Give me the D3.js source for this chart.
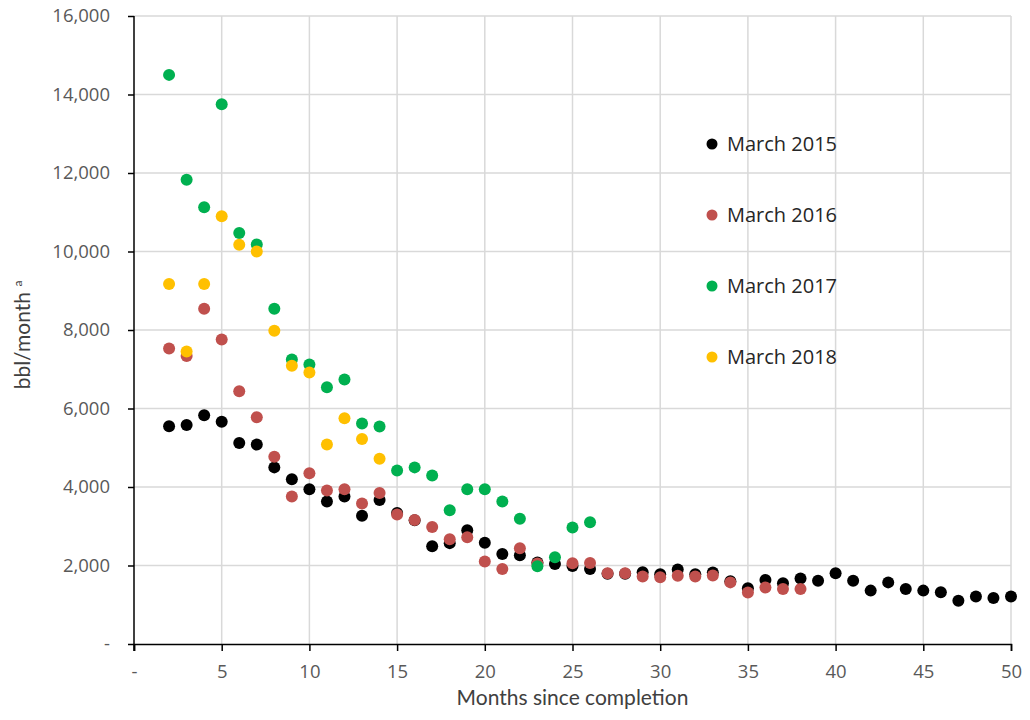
<!DOCTYPE html>
<html>
<head>
<meta charset="utf-8">
<script src="https://cdn.jsdelivr.net/npm/d3@7"></script>
<style>
  body { margin: 0; background: #fff; }
  .tick text { font-family: "Open Sans", sans-serif; fill: #595959; }
</style>
</head>
<body>
<div id="chart"></div>
<script>
//months since completion and bbl/month for each vintage
var months2015 = [2,3,4,5,6,7,8,9,10,11,12,13,14,15,16,17,18,19,20,21,22,23,24,25,26,27,28,29,30,31,32,33,34,35,36,37,38,39,40,41,42,43,44,45,46,47,48,49,50];
var values2015 = [5550,5580,5830,5660,5120,5080,4500,4200,3940,3630,3760,3270,3670,3340,3150,2490,2570,2900,2580,2290,2260,2075,2040,1990,1910,1790,1790,1830,1780,1900,1780,1820,1600,1420,1630,1550,1670,1610,1800,1610,1360,1570,1400,1360,1320,1100,1210,1170,1210];

var months2016 = [2,3,4,5,6,7,8,9,10,11,12,13,14,15,16,17,18,19,20,21,22,23,25,26,27,28,29,30,31,32,33,34,35,36,37,38];
var values2016 = [7530,7340,8540,7760,6440,5780,4770,3760,4350,3910,3940,3580,3850,3300,3160,2980,2670,2720,2100,1910,2440,2050,2060,2065,1800,1800,1720,1700,1740,1720,1745,1570,1310,1440,1400,1400];

var months2017 = [2,3,4,5,6,7,8,9,10,11,12,13,14,15,16,17,18,19,20,21,22,23,24,25,26];
var values2017 = [14500,11830,11130,13750,10470,10180,8540,7250,7120,6540,6740,5620,5540,4420,4500,4290,3410,3940,3940,3630,3190,1980,2210,2970,3100];

var months2018 = [2,3,4,5,6,7,8,9,10,11,12,13,14];
var values2018 = [9170,7450,9170,10900,10170,10000,7980,7090,6920,5080,5750,5220,4720];

var seriesNames = ["March 2015","March 2016","March 2017","March 2018"];
var seriesColors = ["#000000","#c0504d","#00b050","#ffc000"];

var xTicks = [0,5,10,15,20,25,30,35,40,45,50];
var yTicks = [0,2000,4000,6000,8000,10000,12000,14000,16000];

var series = [
	{ name: seriesNames[0], color: seriesColors[0], months: months2015, values: values2015 },
	{ name: seriesNames[1], color: seriesColors[1], months: months2016, values: values2016 },
	{ name: seriesNames[2], color: seriesColors[2], months: months2017, values: values2017 },
	{ name: seriesNames[3], color: seriesColors[3], months: months2018, values: values2018 }
];

var width = 1030, height = 720;
var margin = { top: 16, right: 19, bottom: 76, left: 134 };

var svg = d3.select('#chart').append('svg')
	.attr('width', width)
	.attr('height', height);

var x = d3.scaleLinear().domain([0, 50]).range([margin.left, width - margin.right]);
var y = d3.scaleLinear().domain([0, 16000]).range([height - margin.bottom, margin.top]);

//gridlines
svg.append('g').selectAll('line')
	.data(yTicks.slice(1))
	.enter().append('line')
	.attr('x1', x(0)).attr('x2', x(50))
	.attr('y1', function(d) { return y(d); })
	.attr('y2', function(d) { return y(d); })
	.style('stroke', '#d9d9d9')
	.style('stroke-width', 1.5);

svg.append('g').selectAll('line')
	.data(xTicks.slice(1))
	.enter().append('line')
	.attr('y1', y(0)).attr('y2', y(16000))
	.attr('x1', function(d) { return x(d); })
	.attr('x2', function(d) { return x(d); })
	.style('stroke', '#d9d9d9')
	.style('stroke-width', 1.5);

function fmt(d) { return d === 0 ? '-' : d3.format(',')(d); }

//axes
var yAxis = svg.append('g')
	.attr('transform', 'translate(' + x(0) + ',0)')
	.call(d3.axisLeft(y).tickValues(yTicks).tickFormat(fmt).tickSize(6).tickPadding(18));

var xAxis = svg.append('g')
	.attr('transform', 'translate(0,' + y(0) + ')')
	.call(d3.axisBottom(x).tickValues(xTicks).tickFormat(fmt).tickSize(7).tickPadding(14));

[xAxis, yAxis].forEach(function(a) {
	a.select('.domain').style('stroke', '#000').style('stroke-width', 1.5);
	a.selectAll('.tick line').style('stroke', '#000').style('stroke-width', 1.5);
	a.selectAll('text').style('font-size', '18.5px');
});
yAxis.select('.domain').attr('d', 'M0,' + y(16000) + 'V' + (y(0) + 7));

//points
series.forEach(function(s) {
	svg.append('g').selectAll('circle')
		.data(s.months.map(function(m, i) { return { m: m, v: s.values[i] }; }))
		.enter().append('circle')
		.attr('cx', function(d) { return x(d.m); })
		.attr('cy', function(d) { return y(d.v); })
		.attr('r', 6)
		.style('fill', s.color);
});

//legend
var legend = svg.append('g').attr('transform', 'translate(712,144)');
var items = legend.selectAll('g')
	.data(series)
	.enter().append('g')
	.attr('transform', function(d, i) { return 'translate(0,' + (i * 71) + ')'; });
items.append('circle').attr('r', 5.5).style('fill', function(d) { return d.color; });
items.append('text')
	.attr('x', 15)
	.attr('dy', '0.35em')
	.style('font-family', '"Open Sans", sans-serif')
	.style('font-size', '20px')
	.style('fill', '#262626')
	.text(function(d) { return d.name; });

//axis titles
svg.append('text')
	.attr('x', (x(0) + x(50)) / 2)
	.attr('y', 705)
	.attr('text-anchor', 'middle')
	.style('font-family', 'Lato, sans-serif')
	.style('font-size', '21px')
	.style('fill', '#404040')
	.text('Months since completion');

var yTitle = svg.append('text')
	.attr('transform', 'translate(30,' + 335 + ') rotate(-90)')
	.attr('text-anchor', 'middle')
	.style('font-family', 'Lato, sans-serif')
	.style('font-size', '21px')
	.style('fill', '#404040');
yTitle.append('tspan').text('bbl/month ');
yTitle.append('tspan').attr('dy', '-8').style('font-size', '12px').text('a');
</script>
</body>
</html>
